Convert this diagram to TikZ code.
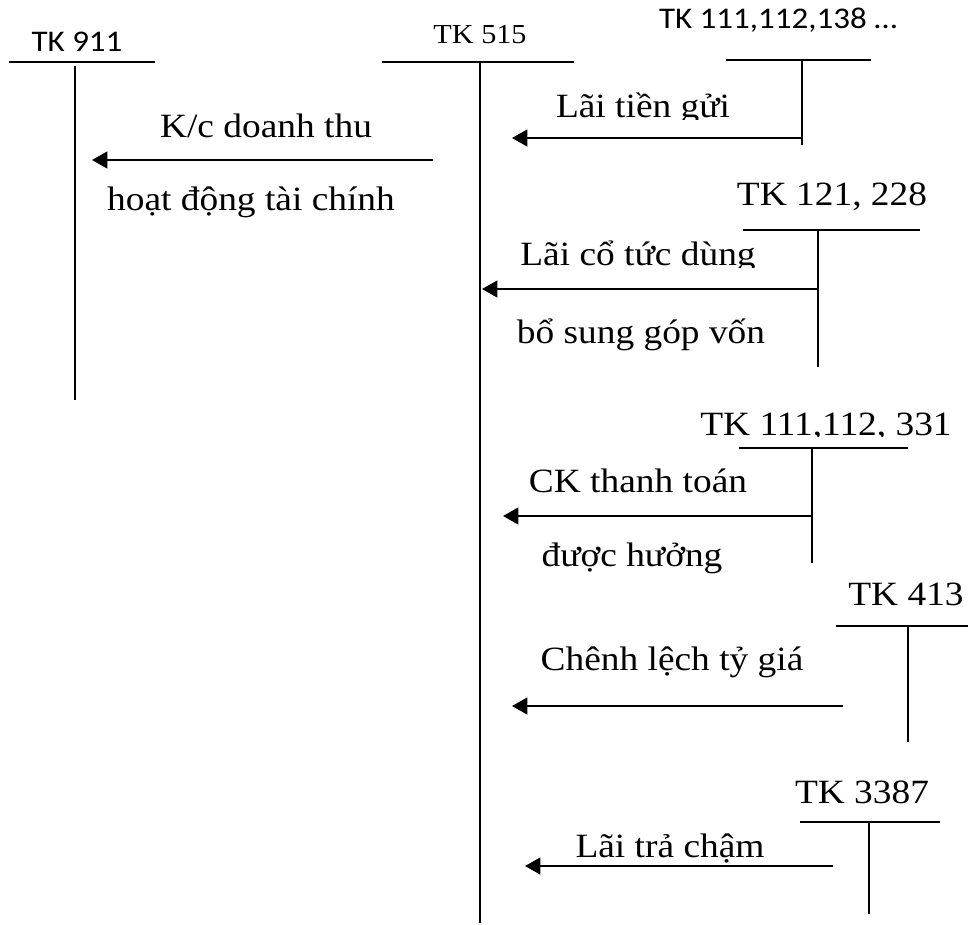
\documentclass[tikz,border=0pt]{standalone}
\usepackage{fontspec}
\setmainfont{Liberation Serif}
\newfontfamily\calib{Carlito}
\usetikzlibrary{arrows.meta}

\tikzset{
  tline/.style={line width=1.5pt},
  flow/.style={line width=1.9pt, -{Triangle[length=11.5pt,width=12.5pt]}},
  lbl/.style={anchor=base, inner sep=0pt, xscale=1.1, font=\fontsize{25.5}{30}\selectfont},
  acct/.style={anchor=base, inner sep=0pt, xscale=1.1, font=\fontsize{25.5}{30}\selectfont},
  acctsm/.style={anchor=base, inner sep=0pt, xscale=1.1, font=\fontsize{20.6}{25}\selectfont},
  acctsf/.style={anchor=base, inner sep=0pt, xscale=1.1, font=\calib\fontsize{22.5}{27}\selectfont},
}

\begin{document}
\begin{tikzpicture}[x=0.75pt,y=-0.75pt]
\useasboundingbox (0,0) rectangle (968,925);

% ---- T-accounts ----
% TK 911
\node[acctsf] (t911) at (77,51) {TK 911};
\draw[tline] (9,62) -- (155,62);
\coordinate (v911a) at (75,66);
\coordinate (v911b) at (75,400);
\draw[tline] (v911a) -- (v911b);

% TK 515
\node[acctsm] (t515) at (480,43) {TK 515};
\draw[tline] (382,62) -- (574,62);
\coordinate (v515a) at (480,62);
\coordinate (v515b) at (480,923);
\draw[tline] (v515a) -- (v515b);

% TK 111,112,138 ...
\node[acctsf] (t111) at (778,28) {TK 111,112,138 …};
\draw[tline] (726,60) -- (871,60);
\coordinate (v111a) at (802,60);
\coordinate (v111b) at (802,145);
\draw[tline] (v111a) -- (v111b);

% TK 121, 228
\node[acct] (t121) at (832,205) {TK 121, 228};
\draw[tline] (743,230) -- (920,230);
\coordinate (v121a) at (818,230);
\coordinate (v121b) at (818,367);
\draw[tline] (v121a) -- (v121b);

% TK 111,112, 331
\begin{scope}
  \clip (690,390) rectangle (968,436.5);
  \node[acct] (t331) at (826,435) {TK 111,112, 331};
\end{scope}
\draw[tline] (739,448) -- (908,448);
\coordinate (v331a) at (812,448);
\coordinate (v331b) at (812,563);
\draw[tline] (v331a) -- (v331b);

% TK 413
\node[acct] (t413) at (906,605) {TK 413};
\draw[tline] (836,626) -- (968,626);
\coordinate (v413a) at (908,626);
\coordinate (v413b) at (908,742);
\draw[tline] (v413a) -- (v413b);

% TK 3387
\node[acct] (t3387) at (862,803) {TK 3387};
\draw[tline] (800,822) -- (940,822);
\coordinate (v3387a) at (869,822);
\coordinate (v3387b) at (869,914);
\draw[tline] (v3387a) -- (v3387b);

% ---- flows ----
\coordinate (a1s) at (433,160);
\coordinate (a1e) at (92,160);
\draw[flow] (a1s) -- (a1e);
\node[lbl] (l1a) at (266,137) {K/c doanh thu};
\node[lbl] (l1b) at (251,210) {hoạt động tài chính};

\coordinate (a2s) at (802,138);
\coordinate (a2e) at (512,138);
\draw[flow] (a2s) -- (a2e);
\begin{scope}
  \clip (520,80) rectangle (800,119);
  \node[lbl] (l2) at (643,117) {Lãi tiền gửi};
\end{scope}

\coordinate (a3s) at (818,289);
\coordinate (a3e) at (482,289);
\draw[flow] (a3s) -- (a3e);
\begin{scope}
  \clip (500,230) rectangle (800,267);
  \node[lbl] (l3a) at (638,265) {Lãi cổ tức dùng};
\end{scope}
\node[lbl] (l3b) at (641,343) {bổ sung góp vốn};

\coordinate (a4s) at (812,516);
\coordinate (a4e) at (503,516);
\draw[flow] (a4s) -- (a4e);
\node[lbl] (l4a) at (638,492) {CK thanh toán};
\node[lbl] (l4b) at (632,566) {được hưởng};

\coordinate (a5s) at (843,706);
\coordinate (a5e) at (512,706);
\draw[flow] (a5s) -- (a5e);
\node[lbl] (l5) at (672,670) {Chênh lệch tỷ giá};

\coordinate (a6s) at (833,866);
\coordinate (a6e) at (525,866);
\draw[flow] (a6s) -- (a6e);
\node[lbl] (l6) at (670,857) {Lãi trả chậm};
\end{tikzpicture}
\end{document}
